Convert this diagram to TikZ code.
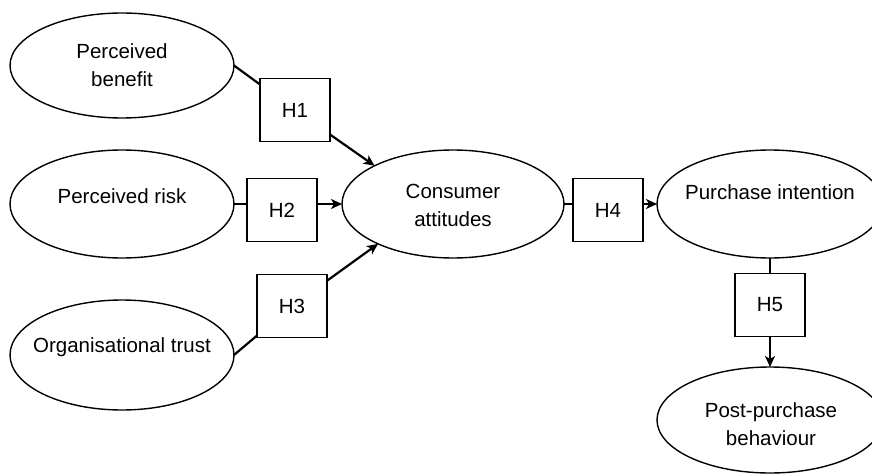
\documentclass[tikz,border=0pt]{standalone}
\usepackage{fontspec}
\setmainfont{Liberation Sans}
\usetikzlibrary{shapes.geometric,arrows.meta}

\tikzset{
  construct/.style={draw=black, line width=1.4pt, ellipse, inner sep=0pt, outer sep=0pt},
  caption/.style={inner sep=0pt, align=center, font=\fontsize{20.5}{28}\selectfont},
  hypbox/.style={draw=black, line width=1.4pt, rectangle, minimum width=70pt, minimum height=63pt,
                 inner sep=0pt, outer sep=0pt, font=\fontsize{20.5}{25}\selectfont},
  link/.style={line width=2.2pt},
  path/.style={line width=2.2pt, -{Stealth[length=11pt,width=10pt,inset=3pt]}}
}

\begin{document}
\begin{tikzpicture}[x=1pt,y=-1pt]
  \useasboundingbox (0,0) rectangle (872,476);

  % latent constructs
  \node[construct, minimum width=224pt, minimum height=105pt] (pb)  at (122,65.5) {};
  \node[construct, minimum width=224pt, minimum height=108pt] (pr)  at (122,204) {};
  \node[construct, minimum width=224pt, minimum height=110pt] (ot)  at (122,355) {};
  \node[construct, minimum width=222pt, minimum height=108pt] (ca)  at (453,204) {};
  \node[construct, minimum width=226pt, minimum height=108pt] (pi)  at (770,204) {};
  \node[construct, minimum width=226pt, minimum height=106pt] (ppb) at (770,420) {};

  % construct names
  \node[caption] (pb-t)  at (122,65)  {Perceived\\benefit};
  \node[caption] (pr-t)  at (122,196) {Perceived risk};
  \node[caption] (ot-t)  at (122,347) {Organisational trust};
  \node[caption] (ca-t)  at (453,205) {Consumer\\attitudes};
  \node[caption] (pi-t)  at (770,192) {Purchase intention};
  \node[caption] (ppb-t) at (771,424) {Post-purchase\\behaviour};

  % hypothesis labels
  \node[hypbox] (h1) at (295,110) {H1};
  \node[hypbox] (h2) at (282,210) {H2};
  \node[hypbox] (h3) at (292,306) {H3};
  \node[hypbox] (h4) at (608,210) {H4};
  \node[hypbox] (h5) at (770,305) {H5};

  % hypothesised paths
  \draw[link] (pb.east) -- (h1);
  \draw[path] (h1) -- (ca.154);
  \draw[link] (pr.east) -- (pr.east -| h2.west);
  \draw[path] (pr.east -| h2.east) -- (ca.west);
  \draw[link] (ot.east) -- (h3);
  \draw[path] (h3) -- (ca.208);
  \draw[link] (ca.east) -- (ca.east -| h4.west);
  \draw[path] (ca.east -| h4.east) -- (pi.west);
  \draw[link] (pi.south) -- (h5.north);
  \draw[path] (h5.south) -- (ppb.north);
\end{tikzpicture}
\end{document}
